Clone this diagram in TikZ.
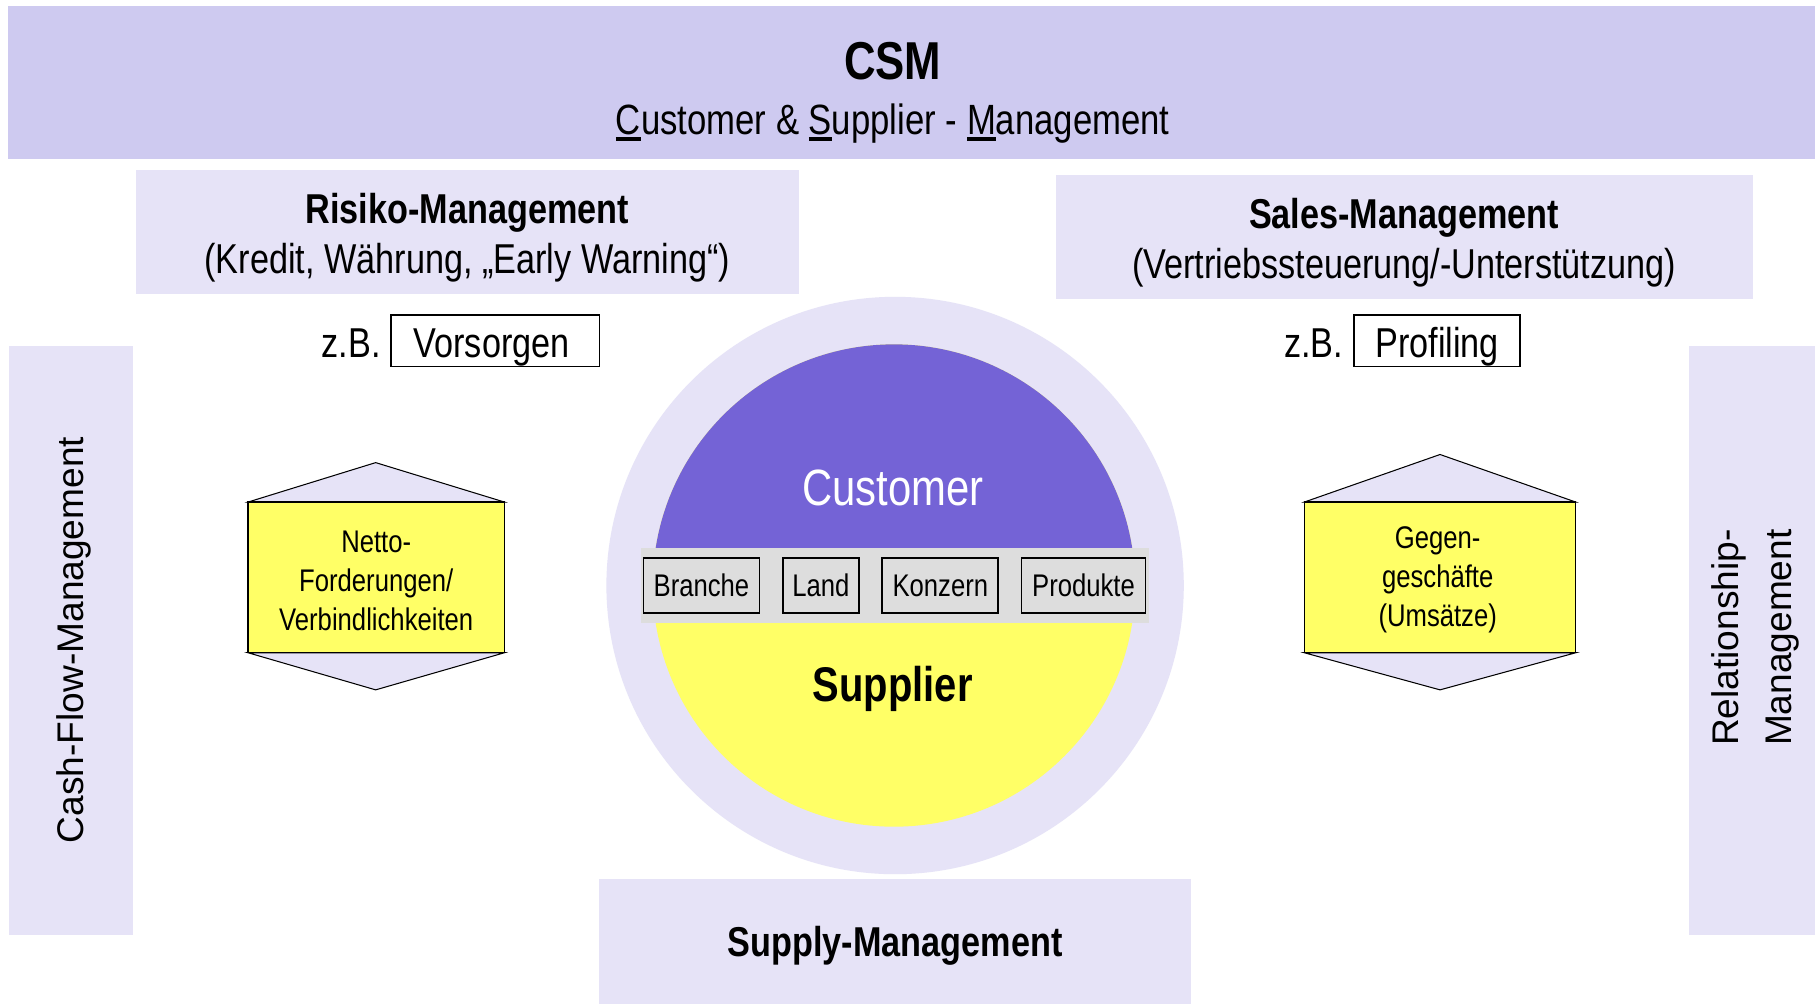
\documentclass[tikz,border=0pt]{standalone}
\usepackage{fontspec}
\setmainfont[FakeStretch=0.82]{Liberation Sans}
\newfontfamily\widefont{Liberation Sans}
\definecolor{bandc}{HTML}{CECAF0}
\definecolor{lightc}{HTML}{E6E3F7}
\definecolor{purplec}{HTML}{7463D6}
\definecolor{yellowc}{HTML}{FFFF66}
\definecolor{grayc}{HTML}{DDDDDD}
\newcommand{\ulx}[1]{\setbox0\hbox{#1}\rlap{\rule[-5.5pt]{\wd0}{3.2pt}}\box0}
\begin{document}
\begin{tikzpicture}[x=1pt,y=-1pt,
  panel/.style={fill=lightc, draw=none, inner sep=0pt},
  txt/.style={inner sep=0pt, anchor=base, align=center},
  tagbox/.style={draw=black, line width=1.5pt, fill=white, inner sep=0pt},
  catbox/.style={draw=black, line width=1.5pt, fill=grayc, inner sep=0pt, minimum height=48pt, font=\fontsize{27}{30}\selectfont},
  hexcap/.style={fill=lightc, draw=black, line width=0.9pt},
  hexbody/.style={fill=yellowc, draw=black, line width=1.2pt, inner sep=0pt, minimum height=130pt},
  hextext/.style={inner sep=0pt, align=center, font=\fontsize{27}{33.5}\selectfont}]
\useasboundingbox (0,0) rectangle (1568,866);
\fill[white] (0,0) rectangle (1568,866);
% panels
\node[panel, fill=bandc, minimum width=1558pt, minimum height=132pt] (top) at (786,71) {};
\node[panel, minimum width=572pt, minimum height=107pt] (risk) at (403,200.5) {};
\node[panel, minimum width=601pt, minimum height=107pt] (sales) at (1211.5,204.5) {};
\node[panel, minimum width=107pt, minimum height=508pt] (cash) at (61.5,552) {};
\node[panel, minimum width=108pt, minimum height=508pt] (rel) at (1511,552) {};
\node[panel, minimum width=510pt, minimum height=108pt] (supply) at (772,812) {};
% texts in panels
\node[txt, font=\bfseries\fontsize{46}{50}\selectfont] (csmt) at (770,69) {CSM};
\node[txt, font=\fontsize{36.5}{40}\selectfont] (csms) at (770,116) {\ulx{C}ustomer \& \ulx{S}upplier - \ulx{M}anagement};
\node[txt, font=\bfseries\fontsize{36}{40}\selectfont] (riskt) at (403,193) {Risiko-Management};
\node[txt, font=\fontsize{36}{40}\selectfont] (risks) at (403,236) {(Kredit, Währung, „Early Warning“)};
\node[txt, font=\bfseries\fontsize{36}{40}\selectfont] (salest) at (1211,197) {Sales-Management};
\node[txt, font=\fontsize{36}{40}\selectfont] (saless) at (1211,240) {(Vertriebssteuerung/-Unterstützung)};
\node[txt, font=\bfseries\fontsize{36}{40}\selectfont] (supplyt) at (772,825) {Supply-Management};
\node[inner sep=0pt, rotate=90, font=\widefont\fontsize{32}{35}\selectfont] (casht) at (64,552) {Cash-Flow-Management};
\node[inner sep=0pt, rotate=90, align=center, font=\widefont\fontsize{32}{45}\selectfont] (relt) at (1514,550) {Relationship-\\Management};
% z.B. boxes
\node[tagbox, minimum width=180pt, minimum height=44pt] (vors) at (427,294) {};
\node[txt, font=\fontsize{36}{40}\selectfont] (vorst) at (424,308) {Vorsorgen};
\node[txt, font=\fontsize{36}{40}\selectfont] (zb1) at (303,308) {z.B.};
\node[tagbox, minimum width=143pt, minimum height=44pt] (prof) at (1239.5,294) {};
\node[txt, font=\fontsize{36}{40}\selectfont] (proft) at (1239.5,308) {Profiling};
\node[txt, font=\fontsize{36}{40}\selectfont] (zb2) at (1133,308) {z.B.};
% circle
\node[circle, fill=lightc, minimum size=498pt, inner sep=0pt] (outer) at (772,505) {};
\fill[yellowc] (771,505) circle[radius=208pt];
\begin{scope}
\clip (500,250) rectangle (1050,505);
\fill[purplec] (771,505) circle[radius=208pt];
\end{scope}
\node[fill=grayc, minimum width=438pt, minimum height=64pt, inner sep=0pt] (bar) at (772,505) {};
\node[catbox, minimum width=100pt] (branche) at (605,505) {Branche};
\node[catbox, minimum width=66pt] (land) at (708,505) {Land};
\node[catbox, minimum width=100pt] (konzern) at (811,505) {Konzern};
\node[catbox, minimum width=107pt] (produkte) at (934.5,505) {Produkte};
\node[txt, text=white, font=\fontsize{44}{48}\selectfont] (cust) at (770,436) {Customer};
\node[txt, font=\bfseries\fontsize{42}{46}\selectfont] (supp) at (770,605) {Supplier};
% hexagons
\draw[hexcap] (214,433) -- (324,399) -- (435,433) -- cycle;
\draw[hexcap] (214,563) -- (324,595) -- (435,563) -- cycle;
\node[hexbody, minimum width=221pt] (netto) at (324.5,498) {};
\node[hextext] (nettot) at (324.5,501) {Netto-\\Forderungen/\\Verbindlichkeiten};
\draw[hexcap] (1125,433) -- (1242,392) -- (1359,433) -- cycle;
\draw[hexcap] (1125,563) -- (1242,595) -- (1359,563) -- cycle;
\node[hexbody, minimum width=234pt] (gegen) at (1242,498) {};
\node[hextext] (gegent) at (1240,500) {Gegen-\\geschäfte\\(Umsätze)};
\end{tikzpicture}
\end{document}
